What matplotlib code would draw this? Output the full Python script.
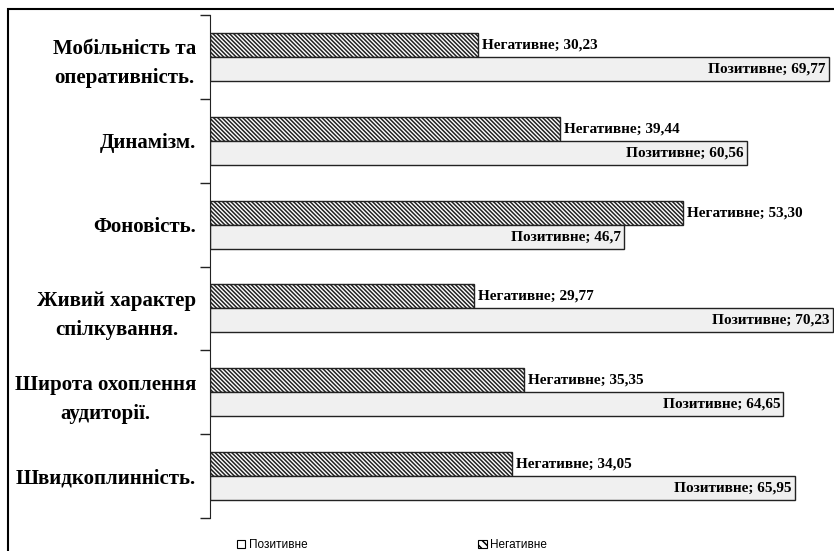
import numpy as np
import matplotlib.pyplot as plt
from matplotlib.patches import Rectangle, Patch

categories = ['Мобільність та\nоперативність.', 'Динамізм.', 'Фоновість.',
              'Живий характер\nспілкування.', 'Широта охоплення\nаудиторії.',
              'Швидкоплинність.']
negative = [30.23, 39.44, 53.30, 29.77, 35.35, 34.05]
positive = [69.77, 60.56, 46.7, 70.23, 64.65, 65.95]
neg_labels = ['30,23', '39,44', '53,30', '29,77', '35,35', '34,05']
pos_labels = ['69,77', '60,56', '46,7', '70,23', '64,65', '65,95']

plt.rcParams['hatch.linewidth'] = 1.1
serif = 'Liberation Serif'

fig = plt.figure(figsize=(8.34, 5.51), dpi=100)
ax = fig.add_axes([210 / 834, 33 / 551, 1 - 210 / 834, 503 / 551])

y = np.arange(len(categories))
h = 0.286
ax.barh(y - h / 2, negative, height=h, color='white', edgecolor='#222222',
        hatch='\\' * 8, linewidth=1.0, label='Негативне')
ax.barh(y + h / 2, positive, height=h, color='#f0f0f0', edgecolor='#222222',
        linewidth=1.0, label='Позитивне')

for i in range(len(categories)):
    ax.text(negative[i] + 0.45, y[i] - h / 2, 'Негативне; ' + neg_labels[i],
            va='center', ha='left', family=serif, weight='bold', fontsize=11)
    ax.text(positive[i] - 0.35, y[i] + h / 2, 'Позитивне; ' + pos_labels[i],
            va='center', ha='right', family=serif, weight='bold', fontsize=11)

ax.set_xlim(0, 70.35)
ax.set_ylim(len(categories) - 0.5, -0.5)
ax.set_xticks([])
ax.set_yticks(y)
ax.set_yticklabels(categories, family=serif, weight='bold', fontsize=15,
                   ha='right', multialignment='center', linespacing=1.6)
ax.tick_params(axis='y', which='major', length=0, pad=10)
ax.set_yticks(np.arange(-0.5, len(categories)), minor=True)
ax.tick_params(axis='y', which='minor', length=7, width=1.0, color='#222222')
for s in ['top', 'right', 'bottom']:
    ax.spines[s].set_visible(False)
ax.spines['left'].set_color('#222222')

# outer chart frame (right and bottom edges fall outside the picture)
fig.patches.append(Rectangle((8 / 834, -0.5), 2, 1.5 - 9 / 551, transform=fig.transFigure,
                             fill=False, edgecolor='black', linewidth=1.5))

handles = [Patch(facecolor='white', edgecolor='black', linewidth=0.8),
           Patch(facecolor='white', edgecolor='black', hatch='\\\\\\\\', linewidth=0.8)]
fig.legend(handles, ['Позитивне', 'Негативне'], loc='center', ncol=2,
           bbox_to_anchor=(392 / 834, 1 - 545 / 551), frameon=False,
           prop={'family': 'Liberation Sans', 'size': 8.5},
           handlelength=0.7, handleheight=0.7, handletextpad=0.3, columnspacing=14.5)

fig.savefig('out.png', dpi=100)
